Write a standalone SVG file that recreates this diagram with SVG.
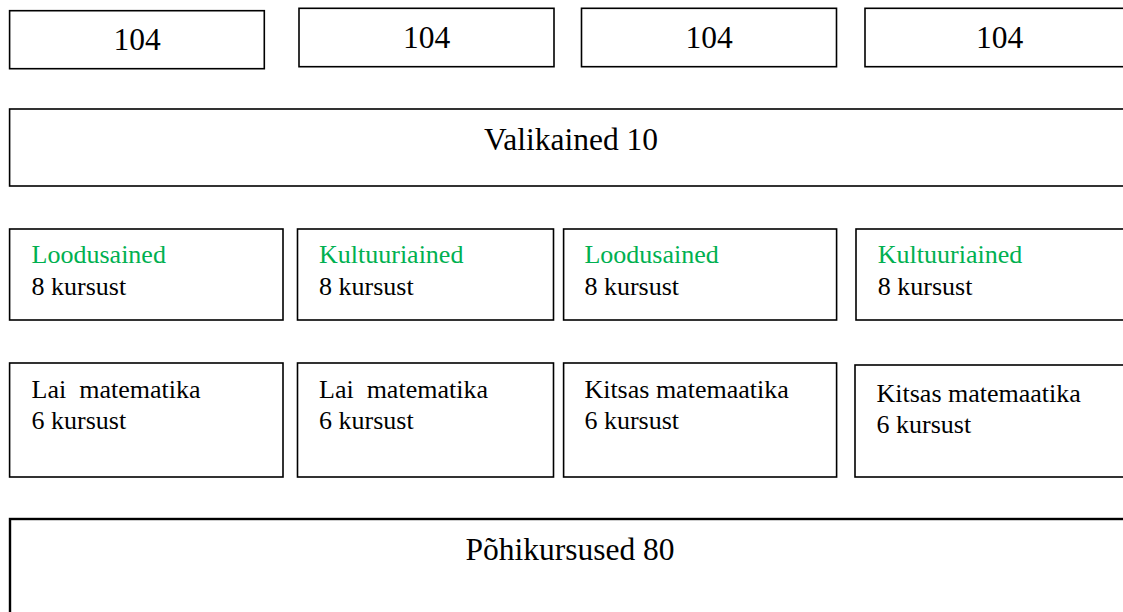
<svg xmlns="http://www.w3.org/2000/svg" width="1123" height="612" viewBox="0 0 1123 612">
<style>
.box{fill:#fff;stroke:#000;stroke-width:1.6}
.big{font-family:"Liberation Serif","Times New Roman",serif;font-size:31.5px;fill:#000;text-anchor:middle}
.sm{font-family:"Liberation Serif","Times New Roman",serif;font-size:26px;fill:#000;white-space:pre}
.g{fill:#00B050}
</style>
<rect width="1123" height="612" fill="#fff"/>
<g id="top1"><rect class="box" x="9.6" y="10.7" width="254.7" height="58"/><text class="big" x="137" y="50">104</text></g>
<g id="top2"><rect class="box" x="299" y="8.3" width="255" height="58.4"/><text class="big" x="426.5" y="48">104</text></g>
<g id="top3"><rect class="box" x="581.5" y="8.3" width="255" height="58.4"/><text class="big" x="709" y="48">104</text></g>
<g id="top4"><rect class="box" x="865" y="8.3" width="269" height="58.4"/><text class="big" x="999.5" y="48">104</text></g>
<g id="valikained"><rect class="box" x="9.6" y="109" width="1130" height="77"/><text class="big" x="571" y="150">Valikained 10</text></g>
<g id="r3b1"><rect class="box" x="9.6" y="229" width="273.4" height="91"/><text class="sm g" x="31.6" y="263">Loodusained</text><text class="sm" x="31.6" y="295">8 kursust</text></g>
<g id="r3b2"><rect class="box" x="297.5" y="229" width="256" height="91"/><text class="sm g" x="319" y="263">Kultuuriained</text><text class="sm" x="319" y="295">8 kursust</text></g>
<g id="r3b3"><rect class="box" x="563.6" y="229" width="273" height="91"/><text class="sm g" x="584.4" y="263">Loodusained</text><text class="sm" x="584.4" y="295">8 kursust</text></g>
<g id="r3b4"><rect class="box" x="856" y="229" width="280" height="91"/><text class="sm g" x="877.8" y="263">Kultuuriained</text><text class="sm" x="877.8" y="295">8 kursust</text></g>
<g id="r4b1"><rect class="box" x="9.6" y="363" width="273.4" height="114"/><text class="sm" x="31.6" y="398">Lai  matematika</text><text class="sm" x="31.6" y="429">6 kursust</text></g>
<g id="r4b2"><rect class="box" x="297.5" y="363" width="256" height="114"/><text class="sm" x="319" y="398">Lai  matematika</text><text class="sm" x="319" y="429">6 kursust</text></g>
<g id="r4b3"><rect class="box" x="563.6" y="363" width="273" height="114"/><text class="sm" x="584.4" y="398">Kitsas matemaatika</text><text class="sm" x="584.4" y="429">6 kursust</text></g>
<g id="r4b4"><rect class="box" x="855" y="365" width="280" height="112"/><text class="sm" x="876.5" y="402">Kitsas matemaatika</text><text class="sm" x="876.5" y="433">6 kursust</text></g>
<g id="pohikursused"><rect class="box" x="10" y="519" width="1130" height="120" style="stroke-width:2.4"/><text class="big" x="570" y="560">Põhikursused 80</text></g>
<g id="connectors"></g>
</svg>
